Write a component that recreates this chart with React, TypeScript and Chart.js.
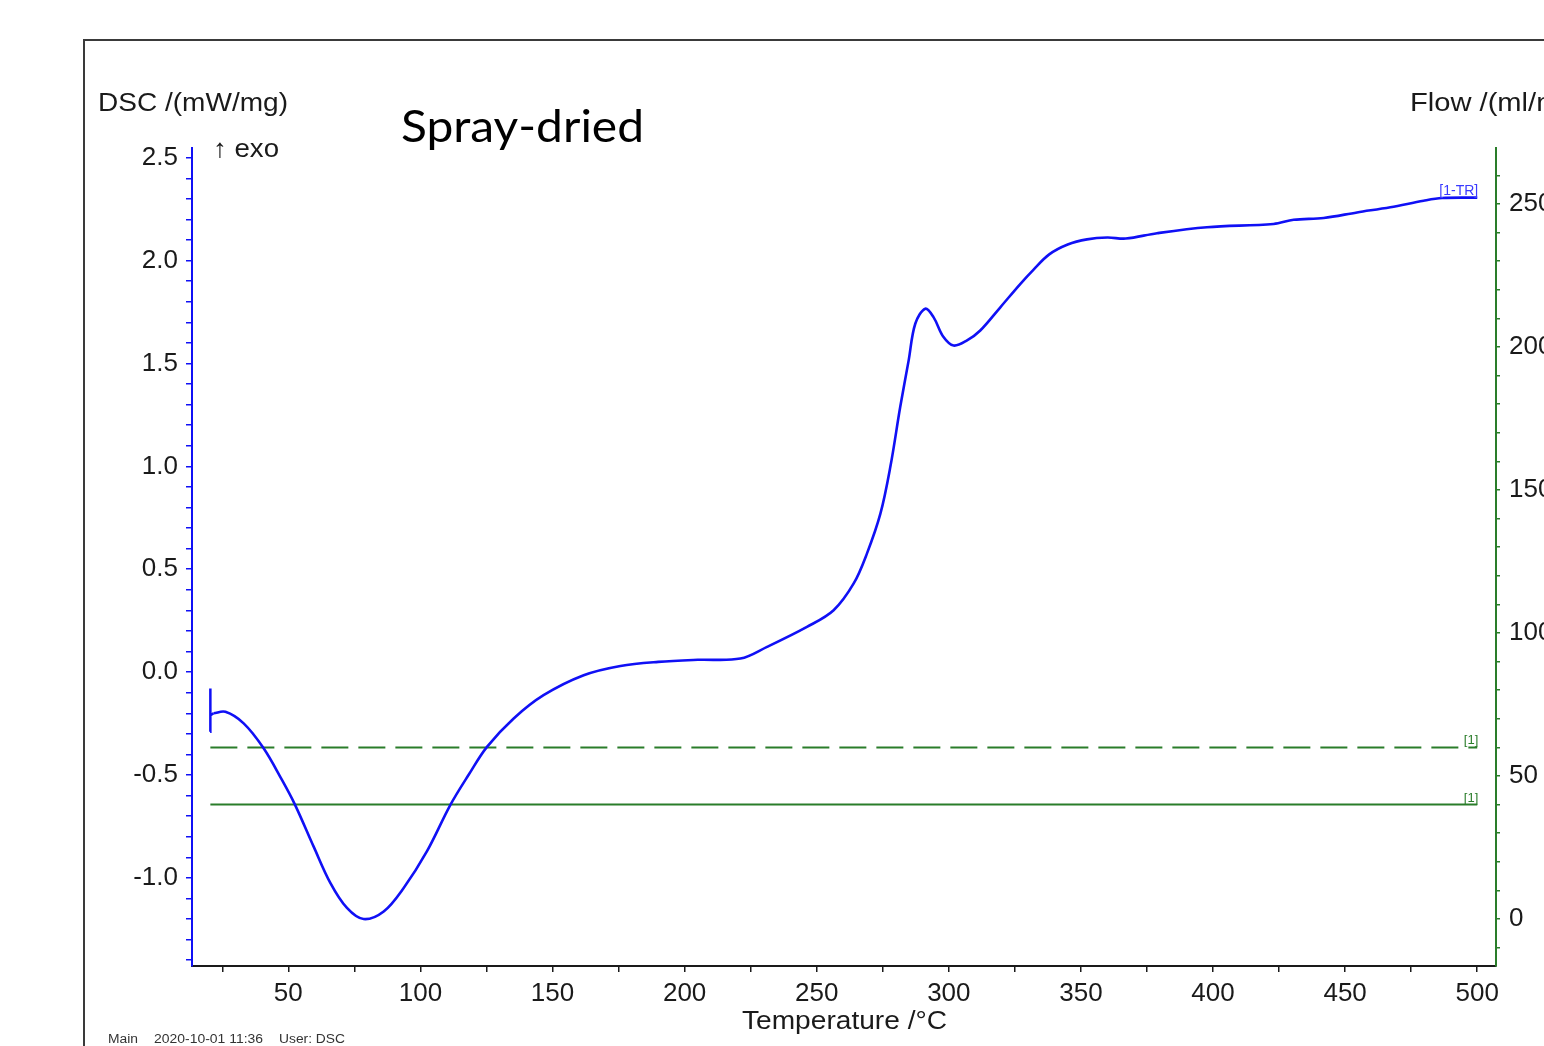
import React, { useEffect, useRef } from 'react';
import { Chart, registerables } from 'chart.js';

Chart.register(...registerables);

// ---- Data ----
const temperature = [
  21.7, 26.2, 33.1, 40.6, 47.6, 52.6, 59.6, 65.9, 72.2, 78.5, 86.1, 93.6, 102.5, 111.3,
  118.2, 125.2, 135.3, 146.6, 161.8, 175.7, 190.0, 205.0, 221.1, 231.2, 246.3, 256.4,
  264.0, 269.0, 274.1, 277.9, 281.6, 284.8, 287.3, 291.1, 294.2, 298.0, 301.8, 306.9,
  311.9, 319.5, 327.1, 332.0, 338.0, 345.0, 352.3, 360.0, 367.0, 378.8, 397.7, 422.9,
  430.5, 441.9, 454.5, 467.1, 479.7, 486.7, 500.0,
];
const dsc = [
  -0.2, -0.193, -0.249, -0.369, -0.524, -0.646, -0.848, -1.024, -1.146, -1.2, -1.163,
  -1.05, -0.87, -0.646, -0.5, -0.363, -0.225, -0.112, -0.015, 0.03, 0.05, 0.06, 0.066,
  0.123, 0.22, 0.301, 0.431, 0.576, 0.77, 1.0, 1.288, 1.515, 1.693, 1.766, 1.725, 1.628,
  1.587, 1.612, 1.66, 1.773, 1.887, 1.955, 2.03, 2.078, 2.103, 2.112, 2.107, 2.133, 2.162,
  2.178, 2.198, 2.207, 2.234, 2.259, 2.291, 2.304, 2.306,
];
const spikeTemperature = [20.4, 20.4, 20.6, 21.7];
const spikeDsc = [-0.29, -0.08, -0.21, -0.2];

const flowTemperature = [20.5, 500];
const flowDashed = [60, 60];
const flowSolid = [40, 40];

const xTickValues = Array.from({ length: 20 }, (_, i) => 25 + i * 25); // 25..500
const xLabelValues = [50, 100, 150, 200, 250, 300, 350, 400, 450, 500];
const dscTickValues = Array.from({ length: 40 }, (_, i) => Math.round((-1.4 + i * 0.1) * 10) / 10); // -1.4..2.5
const dscLabelValues = [-1.0, -0.5, 0.0, 0.5, 1.0, 1.5, 2.0, 2.5];
const flowTickValues = Array.from({ length: 28 }, (_, i) => -10 + i * 10); // -10..260
const flowLabelValues = [0, 50, 100, 150, 200, 250];

const BLUE = '#1010f5';
const GREEN = '#2a7d2a';
const ARIAL = '"Liberation Sans", Arial, sans-serif';

function drawScaled(ctx: CanvasRenderingContext2D, text: string, x: number, y: number, font: string, color: string, width?: number, sx = 1, baseline: CanvasTextBaseline = 'middle') {
  ctx.save();
  ctx.font = font;
  let s = sx;
  if (width) s = width / ctx.measureText(text).width;
  ctx.translate(x, y);
  ctx.scale(s, 1);
  ctx.textAlign = 'left';
  ctx.textBaseline = baseline;
  ctx.fillStyle = color;
  ctx.fillText(text, 0, 0);
  ctx.restore();
}

const overlayPlugin = {
  id: 'overlay',
  afterDraw(chart: any) {
    const ctx: CanvasRenderingContext2D = chart.ctx;
    ctx.save();
    // outer frame
    ctx.strokeStyle = '#3a3a3a';
    ctx.lineWidth = 2;
    ctx.beginPath();
    ctx.moveTo(84, 1046);
    ctx.lineTo(84, 40);
    ctx.lineTo(1544, 40);
    ctx.stroke();
    ctx.restore();

    drawScaled(ctx, 'DSC /(mW/mg)', 98, 104, `26px ${ARIAL}`, '#1a1a1a', 190);
    drawScaled(ctx, '↑ exo', 213, 150, `26px ${ARIAL}`, '#1a1a1a', 66);
    drawScaled(ctx, 'Flow /(ml/min)', 1410, 104, `26px ${ARIAL}`, '#1a1a1a', undefined, 1.12);
    drawScaled(ctx, 'Temperature /°C', 742, 1022, `26px ${ARIAL}`, '#1a1a1a', 205);
    drawScaled(ctx, 'Spray-dried', 401, 142, '44px Lato, "Open Sans", sans-serif', '#000000', 243, 1, 'alphabetic');

    drawScaled(ctx, 'Main', 108, 1040, `12px ${ARIAL}`, '#333333', 30);
    drawScaled(ctx, '2020-10-01 11:36', 154, 1040, `12px ${ARIAL}`, '#333333', 109);
    drawScaled(ctx, 'User: DSC', 279, 1040, `12px ${ARIAL}`, '#333333', 66);

    const xs = chart.scales.x;
    const ys = chart.scales.y;
    const y2 = chart.scales.y2;
    const xEnd = xs.getPixelForValue(temperature[temperature.length - 1]);
    const yEnd = ys.getPixelForValue(dsc[dsc.length - 1]);
    ctx.save();
    ctx.textAlign = 'right';
    ctx.textBaseline = 'alphabetic';
    ctx.font = `14px ${ARIAL}`;
    ctx.fillStyle = '#3a3aff';
    ctx.fillText('[1-TR]', xEnd + 1, yEnd - 3);
    ctx.font = `13px ${ARIAL}`;
    ctx.fillStyle = GREEN;
    ctx.fillText('[1]', xEnd + 1, y2.getPixelForValue(flowDashed[1]) - 3);
    ctx.fillText('[1]', xEnd + 1, y2.getPixelForValue(flowSolid[1]) - 3);
    ctx.restore();
  },
};

const isIn = (arr: number[], v: number) => arr.some((a) => Math.abs(a - v) < 1e-6);

export default function App() {
  const ref = useRef<HTMLCanvasElement | null>(null);

  useEffect(() => {
    if (!ref.current) return;
    const chart = new Chart(ref.current, {
      type: 'scatter',
      data: {
        datasets: [
          {
            label: 'DSC',
            data: temperature.map((t, i) => ({ x: t, y: dsc[i] })),
            showLine: true,
            borderColor: BLUE,
            borderWidth: 2.6,
            pointRadius: 0,
            tension: 0.35,
            yAxisID: 'y',
          },
          {
            label: 'DSC start',
            data: spikeTemperature.map((t, i) => ({ x: t, y: spikeDsc[i] })),
            showLine: true,
            borderColor: BLUE,
            borderWidth: 2.5,
            pointRadius: 0,
            tension: 0,
            yAxisID: 'y',
          },
          {
            label: 'Flow 1',
            data: flowTemperature.map((t, i) => ({ x: t, y: flowDashed[i] })),
            showLine: true,
            borderColor: GREEN,
            borderWidth: 2,
            borderDash: [27, 10],
            pointRadius: 0,
            yAxisID: 'y2',
          },
          {
            label: 'Flow 2',
            data: flowTemperature.map((t, i) => ({ x: t, y: flowSolid[i] })),
            showLine: true,
            borderColor: GREEN,
            borderWidth: 2,
            pointRadius: 0,
            yAxisID: 'y2',
          },
        ],
      },
      options: {
        animation: false,
        responsive: false,
        devicePixelRatio: 1,
        layout: { padding: { top: 148, left: 0, right: 0, bottom: 0 } },
        plugins: { legend: { display: false }, tooltip: { enabled: false } },
        scales: {
          x: {
            type: 'linear',
            position: 'bottom',
            min: 13.55,
            max: 507.1,
            afterBuildTicks: (s: any) => { s.ticks = xTickValues.map((v) => ({ value: v })); },
            afterFit: (s: any) => { s.height = 80; },
            border: { display: true, color: '#1a1a1a', width: 2 },
            grid: { display: true, drawOnChartArea: false, drawTicks: true, tickLength: 6, color: '#1a1a1a', lineWidth: 1.5 },
            ticks: {
              autoSkip: false,
              maxRotation: 0,
              padding: 6,
              color: '#1a1a1a',
              font: { size: 26, family: ARIAL },
              callback: (v: any) => (isIn(xLabelValues, Number(v)) ? String(Math.round(Number(v))) : ''),
            },
          },
          y: {
            type: 'linear',
            position: 'left',
            min: -1.428,
            max: 2.547,
            afterBuildTicks: (s: any) => { s.ticks = dscTickValues.map((v) => ({ value: v })); },
            afterFit: (s: any) => { s.width = 192; },
            border: { display: true, color: BLUE, width: 2 },
            grid: { display: true, drawOnChartArea: false, drawTicks: true, tickLength: 6, color: BLUE, lineWidth: 1.5 },
            ticks: {
              autoSkip: false,
              padding: 8,
              color: '#1a1a1a',
              font: { size: 26, family: ARIAL },
              callback: (v: any) => (isIn(dscLabelValues, Number(v)) ? Number(v).toFixed(1) : ''),
            },
          },
          y2: {
            type: 'linear',
            position: 'right',
            min: -16.43,
            max: 269.6,
            afterBuildTicks: (s: any) => { s.ticks = flowTickValues.map((v) => ({ value: v })); },
            afterFit: (s: any) => { s.width = 48; },
            border: { display: true, color: GREEN, width: 2 },
            grid: { display: true, drawOnChartArea: false, drawTicks: true, tickLength: 4, color: GREEN, lineWidth: 1.5 },
            ticks: {
              autoSkip: false,
              padding: 9,
              color: '#1a1a1a',
              font: { size: 26, family: ARIAL },
              callback: (v: any) => (isIn(flowLabelValues, Number(v)) ? String(Math.round(Number(v))) : ''),
            },
          },
        },
      },
      plugins: [overlayPlugin],
    } as any);
    return () => chart.destroy();
  }, []);

  return (
    <canvas
      ref={ref}
      width={1544}
      height={1046}
      style={{ position: 'absolute', left: 0, top: 0, width: 1544, height: 1046, display: 'block', background: '#ffffff' }}
    />
  );
}
